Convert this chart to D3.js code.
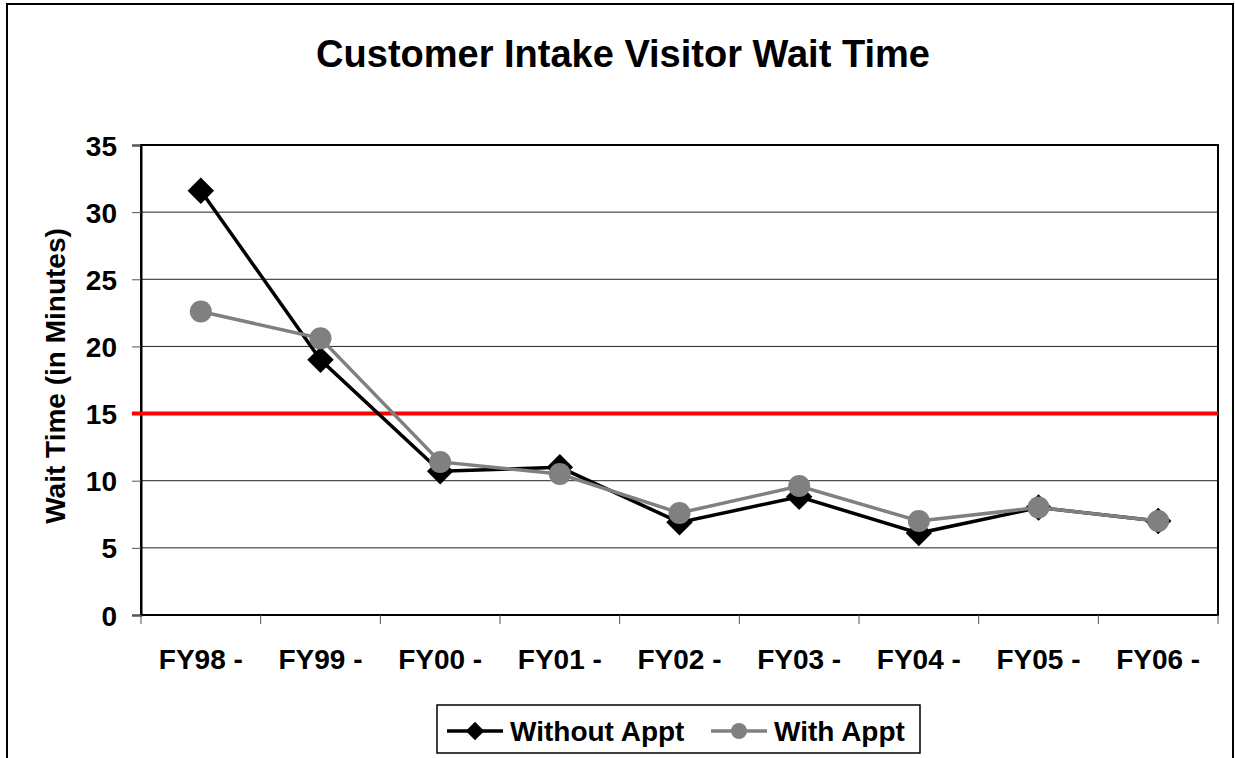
<!DOCTYPE html>
<html>
<head>
<meta charset="utf-8">
<script src="https://cdn.jsdelivr.net/npm/d3@7"></script>
<style>
  body { margin: 0; background: #fff; }
  svg text { font-family: "Liberation Sans", Arial, sans-serif; font-weight: bold; fill: #000; }
</style>
</head>
<body>
<svg id="chart" width="1235" height="758"></svg>
<script>
// chart data
const categories = ["FY98 -", "FY99 -", "FY00 -", "FY01 -", "FY02 -", "FY03 -", "FY04 -", "FY05 -", "FY06 -"]
const withoutAppt = [31.6, 19.0, 10.7, 11.0, 6.9, 8.8, 6.1, 8.0, 7.0]
const withAppt = [22.6, 20.6, 11.4, 10.5, 7.6, 9.6, 7.0, 8.0, 7.0]
const yTicks = [0, 5, 10, 15, 20, 25, 30, 35]
const target = 15

const svg = d3.select('#chart')
const plot = { left: 141, right: 1218, top: 145, bottom: 615 }

// outer frame (bottom edge runs off the picture)
svg.append('rect')
  .attr('x', 7).attr('y', 4)
  .attr('width', 1226).attr('height', 800)
  .attr('fill', 'none').attr('stroke', '#000').attr('stroke-width', 2)

const x = d3.scaleBand().domain(categories).range([plot.left, plot.right])
const y = d3.scaleLinear().domain([0, 35]).range([plot.bottom, plot.top])

// gridlines
svg.append('g')
  .selectAll('line')
  .data(yTicks.filter(t => t > 0 && t < 35))
  .join('line')
  .attr('x1', plot.left).attr('x2', plot.right)
  .attr('y1', d => y(d)).attr('y2', d => y(d))
  .attr('stroke', '#222').attr('stroke-width', 1)

// plot area border
svg.append('rect')
  .attr('x', plot.left).attr('y', plot.top)
  .attr('width', plot.right - plot.left).attr('height', plot.bottom - plot.top)
  .attr('fill', 'none').attr('stroke', '#000').attr('stroke-width', 2)

// y axis
const yAxis = svg.append('g')
  .attr('transform', `translate(${plot.left},0)`)
  .call(d3.axisLeft(y).tickValues(yTicks).tickSize(9).tickPadding(15))
yAxis.select('.domain').attr('stroke', '#000').attr('stroke-width', 2)
yAxis.selectAll('.tick line').attr('stroke', '#555')
yAxis.selectAll('text').style('font-size', '28px').attr('dy', '0.36em')

// x axis: ticks on category boundaries
const xAxis = svg.append('g')
  .attr('transform', `translate(0,${plot.bottom})`)
xAxis.append('line')
  .attr('x1', plot.left).attr('x2', plot.right)
  .attr('stroke', '#000').attr('stroke-width', 2)
xAxis.selectAll('line.tk')
  .data(d3.range(categories.length + 1))
  .join('line').attr('class', 'tk')
  .attr('x1', i => plot.left + i * x.bandwidth())
  .attr('x2', i => plot.left + i * x.bandwidth())
  .attr('y1', 0).attr('y2', 9)
  .attr('stroke', '#555')
xAxis.selectAll('text')
  .data(categories)
  .join('text')
  .attr('x', d => x(d) + x.bandwidth() / 2)
  .attr('y', 54)
  .attr('text-anchor', 'middle')
  .style('font-size', '28px')
  .text(d => d)

// y axis label
svg.append('text')
  .attr('transform', `translate(65,376) rotate(-90)`)
  .attr('text-anchor', 'middle')
  .style('font-size', '28px')
  .text('Wait Time (in Minutes)')

// title
svg.append('text')
  .attr('x', 623).attr('y', 67)
  .attr('text-anchor', 'middle')
  .style('font-size', '38px')
  .text('Customer Intake Visitor Wait Time')

// target line
svg.append('line')
  .attr('x1', 132).attr('x2', plot.right)
  .attr('y1', y(target)).attr('y2', y(target))
  .attr('stroke', '#ff0000').attr('stroke-width', 4)

const cx = (d, i) => x(categories[i]) + x.bandwidth() / 2
const line = d3.line().x(cx).y(d => y(d))
const diamond = d3.symbol().type(d3.symbolSquare).size(350)

// Without Appt series
svg.append('path')
  .attr('d', line(withoutAppt))
  .attr('fill', 'none').attr('stroke', '#000').attr('stroke-width', 3.5)
svg.append('g').selectAll('path')
  .data(withoutAppt)
  .join('path')
  .attr('d', diamond)
  .attr('transform', (d, i) => `translate(${cx(d, i)},${y(d)}) rotate(45)`)
  .attr('fill', '#000')

// With Appt series
svg.append('path')
  .attr('d', line(withAppt))
  .attr('fill', 'none').attr('stroke', '#808080').attr('stroke-width', 3.5)
svg.append('g').selectAll('circle')
  .data(withAppt)
  .join('circle')
  .attr('cx', cx).attr('cy', d => y(d))
  .attr('r', 11)
  .attr('fill', '#808080')

// legend
const lg = svg.append('g')
lg.append('rect')
  .attr('x', 437).attr('y', 705).attr('width', 483).attr('height', 48)
  .attr('fill', '#fff').attr('stroke', '#000').attr('stroke-width', 1.5)
lg.append('line').attr('x1', 447).attr('x2', 503).attr('y1', 731).attr('y2', 731)
  .attr('stroke', '#000').attr('stroke-width', 3.5)
lg.append('path').attr('d', d3.symbol().type(d3.symbolSquare).size(170))
  .attr('transform', 'translate(475,731) rotate(45)').attr('fill', '#000')
lg.append('text').attr('x', 510).attr('y', 741).style('font-size', '28px').text('Without Appt')
lg.append('line').attr('x1', 711).attr('x2', 767).attr('y1', 731).attr('y2', 731)
  .attr('stroke', '#808080').attr('stroke-width', 3.5)
lg.append('circle').attr('cx', 739).attr('cy', 731).attr('r', 8).attr('fill', '#808080')
lg.append('text').attr('x', 774).attr('y', 741).style('font-size', '28px').text('With Appt')
</script>
</body>
</html>
